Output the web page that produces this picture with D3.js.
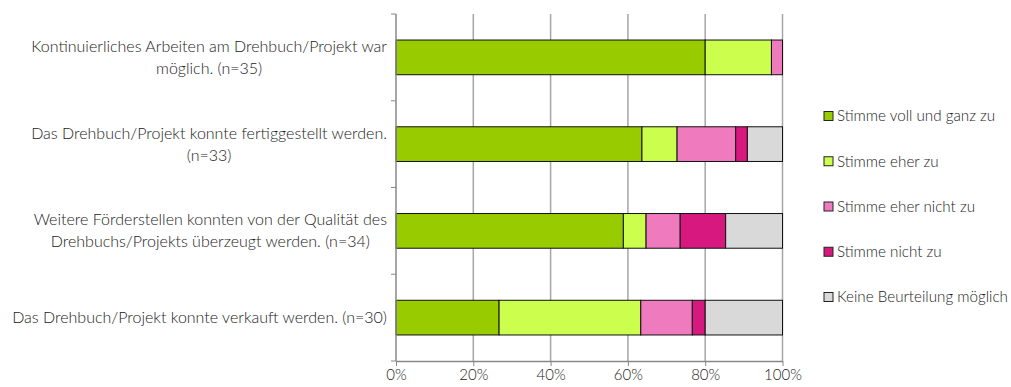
<!DOCTYPE html>
<html>
<head>
<meta charset="utf-8">
<script src="https://cdn.jsdelivr.net/npm/d3@7"></script>
<style>
  body { margin: 0; background: #fff; }
  text { font-family: Lato, "Open Sans", sans-serif; fill: #1a1a1a; font-weight: 300; }
</style>
</head>
<body>
<script>
// statements, each one split into lines as in the original
let questions = [
    ['Kontinuierliches Arbeiten am Drehbuch/Projekt war', 'möglich. (n=35)'],
    ['Das Drehbuch/Projekt konnte fertiggestellt werden.', '(n=33)'],
    ['Weitere Förderstellen konnten von der Qualität des', 'Drehbuchs/Projekts überzeugt werden. (n=34)'],
    ['Das Drehbuch/Projekt konnte verkauft werden. (n=30)']
];
let answers = ['Stimme voll und ganz zu', 'Stimme eher zu', 'Stimme eher nicht zu', 'Stimme nicht zu', 'Keine Beurteilung möglich'];
let colors = ['#99cc00', '#ccff4d', '#f07abe', '#d6187f', '#d9d9d9'];

// answer counts per statement, n in the labels
let vollUndGanz = [28, 21, 20, 8];
let eher = [6, 3, 2, 11];
let eherNicht = [1, 5, 3, 4];
let nicht = [0, 1, 4, 1];
let keine = [0, 3, 5, 6];
let tickLabels = ['0%', '20%', '40%', '60%', '80%', '100%'];

let width = 1011, height = 387;
let margin = {top: 14, right: 228, bottom: 26, left: 396};

let svg = d3.select('body').append('svg')
    .attr('width', width)
    .attr('height', height);

let series = [vollUndGanz, eher, eherNicht, nicht, keine];
let rows = questions.map((q, i) => {
    let row = {id: i};
    answers.forEach((a, j) => row[a] = series[j][i]);
    row.total = d3.sum(series, s => s[i]);
    return row;
});

let stacked = d3.stack()
    .keys(answers)
    .value((d, key) => d[key] / d.total)(rows);

let x = d3.scaleLinear()
    .domain([0, 1])
    .range([margin.left, width - margin.right - 0.5]);

let y = d3.scaleBand()
    .domain(rows.map(d => d.id))
    .range([margin.top, height - margin.bottom])
    .paddingInner(0.6)
    .paddingOuter(0.3);

let color = d3.scaleOrdinal().domain(answers).range(colors);

// vertical grid lines
svg.append('g')
    .selectAll('line')
    .data(d3.range(0.2, 1.01, 0.2))
    .enter().append('line')
    .attr('x1', d => x(d)).attr('x2', d => x(d))
    .attr('y1', margin.top).attr('y2', height - margin.bottom)
    .style('stroke', '#a6a6a6')
    .style('stroke-width', 1.5);

// bars
svg.append('g')
    .selectAll('g')
    .data(stacked)
    .enter().append('g')
    .style('fill', d => color(d.key))
    .selectAll('rect')
    .data(d => d)
    .enter().append('rect')
    .attr('x', d => x(d[0]))
    .attr('y', d => y(d.data.id))
    .attr('width', d => x(d[1]) - x(d[0]))
    .attr('height', y.bandwidth())
    .style('stroke', d => d[1] - d[0] > 0 ? '#111' : 'none')
    .style('stroke-width', 1);

// bottom axis
let xAxis = d3.axisBottom(x)
    .tickValues(d3.range(0, 1.01, 0.2))
    .tickFormat((d, i) => tickLabels[i])
    .tickSize(5)
    .tickSizeOuter(0);

let gx = svg.append('g')
    .attr('transform', 'translate(0,' + (height - margin.bottom) + ')')
    .call(xAxis);
gx.select('.domain').style('stroke', '#888').style('stroke-width', 1.5);
gx.selectAll('.tick line').style('stroke', '#888');
gx.selectAll('.tick text')
    .attr('dy', '0.75em')
    .style('font-size', '15px')
    .style('font-family', 'Lato, sans-serif')
    .style('font-weight', 300)
    .style('fill', '#1a1a1a');

// left axis line with ticks at band edges
let bandEdges = d3.range(rows.length + 1).map(i => margin.top + i * (height - margin.bottom - margin.top) / rows.length);
svg.append('line')
    .attr('x1', x(0)).attr('x2', x(0))
    .attr('y1', margin.top).attr('y2', height - margin.bottom)
    .style('stroke', '#888')
    .style('stroke-width', 1.5);
svg.append('g')
    .selectAll('line')
    .data(bandEdges)
    .enter().append('line')
    .attr('x1', x(0) - 5).attr('x2', x(0))
    .attr('y1', d => d).attr('y2', d => d)
    .style('stroke', '#888');

// category labels, centered block right-aligned to the axis
let labels = svg.append('g')
    .selectAll('text')
    .data(rows)
    .enter().append('text')
    .style('font-size', '16px')
    .attr('text-anchor', 'middle');

labels.each(function(d) {
    let lines = questions[d.id];
    let t = d3.select(this);
    let cy = y(d.id) + y.bandwidth() / 2;
    lines.forEach((l, k) => {
        t.append('tspan')
            .attr('y', cy + (k - (lines.length - 1) / 2) * 22)
            .attr('dy', '0.35em')
            .text(l);
    });
    let maxW = d3.max(t.selectAll('tspan').nodes(), n => n.getComputedTextLength());
    t.selectAll('tspan').attr('x', 387 - maxW / 2);
});

// legend
let legend = svg.append('g')
    .selectAll('g')
    .data(answers)
    .enter().append('g')
    .attr('transform', (d, i) => 'translate(824,' + (116 + i * 45.25) + ')');

legend.append('rect')
    .attr('x', 0).attr('y', -4.5)
    .attr('width', 9).attr('height', 9)
    .style('fill', d => color(d))
    .style('stroke', '#222')
    .style('stroke-width', 1);

legend.append('text')
    .attr('x', 13)
    .attr('dy', '0.35em')
    .style('font-size', '15.2px')
    .text(d => d);
</script>
</body>
</html>
